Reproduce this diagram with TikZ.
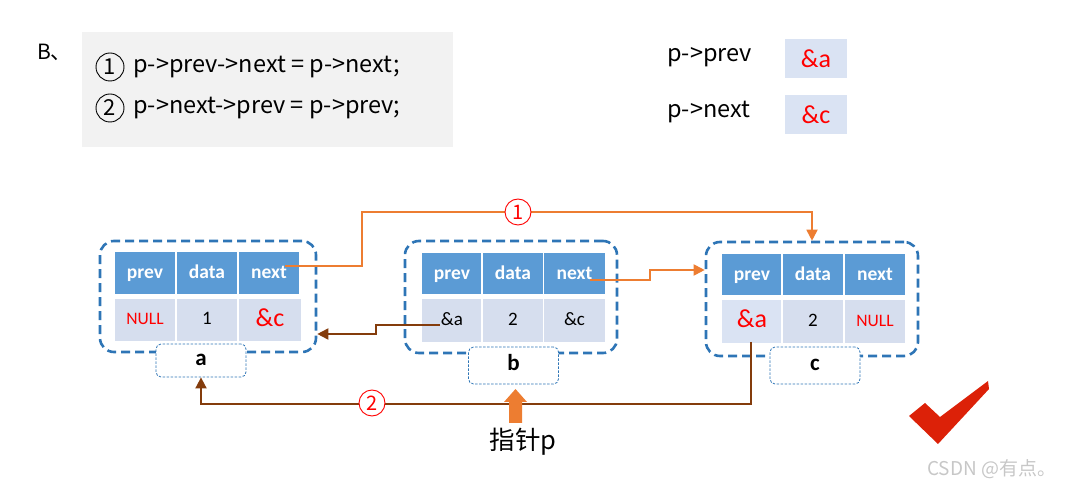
\documentclass[tikz,border=0pt]{standalone}
\usepackage{fontspec}
\setmainfont{Carlito}
\newfontfamily\cjk{Noto Sans CJK SC}
\usetikzlibrary{arrows.meta,calc}
\definecolor{hdr}{HTML}{5B9BD5}
\definecolor{cellc}{HTML}{D6DEEE}
\definecolor{bord}{HTML}{2E75B6}
\definecolor{orng}{HTML}{ED7D31}
\definecolor{brwn}{HTML}{843C0C}
\definecolor{graybg}{HTML}{F2F2F2}
\definecolor{valbg}{HTML}{DAE3F3}
\definecolor{chk}{HTML}{DC2108}
\begin{document}
\begin{tikzpicture}[x=1pt,y=-1pt,
 outer/.style={draw=bord, line width=2.6pt, dash pattern=on 9pt off 5pt, rounded corners=14pt, inner sep=0},
 hd/.style={fill=hdr, draw=white, line width=1.5pt, minimum width=62pt, minimum height=43pt, text=white, font=\bfseries\fontsize{19.5}{19.5}\selectfont, inner sep=0, text height=13pt, text depth=1pt},
 cell/.style={fill=cellc, draw=white, line width=1.5pt, minimum width=62pt, minimum height=44pt, font=\fontsize{19}{19}\selectfont, inner sep=0, text height=11pt, text depth=1pt},
 redv/.style={text=red, font=\fontsize{26}{26}\selectfont, text height=14pt, text depth=1pt},
 nullv/.style={text=red, font=\fontsize{17.5}{17.5}\selectfont},
 lab/.style={draw=bord, line width=0.8pt, dash pattern=on 2.5pt off 1.5pt, rounded corners=5pt, fill=white, minimum width=90pt, font=\bfseries\fontsize{23}{23}\selectfont, inner sep=0, text height=11pt, text depth=1pt},
 otext/.style={font=\cjk\fontsize{23.5}{23.5}\selectfont, inner sep=0},
 circ/.style={circle, draw=black, line width=0.9pt, minimum size=28pt, inner sep=0, font=\cjk\fontsize{22}{22}\selectfont},
 o1/.style={draw=orng, line width=1.8pt, -{Triangle[length=11pt,width=11pt]}},
 b1/.style={draw=brwn, line width=1.8pt, -{Triangle[length=11pt,width=11pt]}},
 num/.style={circle, draw=red, line width=0.9pt, fill=white, text=red, minimum size=26pt, inner sep=0, font=\cjk\fontsize{20}{20}\selectfont},
 valbox/.style={fill=valbg, minimum width=62pt, minimum height=39pt, text=red, font=\fontsize{26}{26}\selectfont, inner sep=0},
]
\useasboundingbox (0,0) rectangle (1069,486);

% top-left code block
\node[otext, anchor=west, font=\cjk\fontsize{21}{21}\selectfont] (bl) at (37,52) {B、};
\node[fill=graybg, minimum width=371pt, minimum height=115pt, inner sep=0] (code) at (267.5,89.5) {};
\node[circ] (c1) at (110,67) {1};
\node[otext, anchor=west] (l1) at (133,67) {p->prev->next = p->next;};
\node[circ] (c2) at (110,108) {2};
\node[otext, anchor=west] (l2) at (133,108) {p->next->prev = p->prev;};

% top-right values
\node[otext, anchor=west] (pp) at (667,57) {p->prev};
\node[valbox] (vp) at (816,58.5) {\&a};
\node[otext, anchor=west] (pn) at (667,112) {p->next};
\node[valbox] (vn) at (816,114.5) {\&c};

% node a
\node[outer, minimum width=216pt, minimum height=111pt] (a-box) at (208,296.5) {};
\node[hd] (a-h1) at (145,273) {prev};
\node[hd] (a-h2) at (207,273) {data};
\node[hd] (a-h3) at (269,273) {next};
\node[cell,nullv] (a-d1) at (145,320) {NULL};
\node[cell] (a-d2) at (207,320) {1};
\node[cell,redv,minimum width=64pt] (a-d3) at (270,320) {\&c};
\node[lab, minimum height=33pt] (a-lab) at (201,360.5) {a};

% node b
\node[outer, minimum width=212pt, minimum height=112pt] (b-box) at (511,297) {};
\node[hd] (b-h1) at (452,273.5) {prev};
\node[hd] (b-h2) at (513,273.5) {data};
\node[hd] (b-h3) at (574.5,273.5) {next};
\node[cell] (b-d1) at (452,320.5) {\&a};
\node[cell] (b-d2) at (513,320.5) {2};
\node[cell] (b-d3) at (574.5,320.5) {\&c};
\node[lab, minimum height=37pt] (b-lab) at (513.5,365.5) {b};

% node c
\node[outer, minimum width=212pt, minimum height=114pt] (c-box) at (812,299) {};
\node[hd] (c-h1) at (752,274.5) {prev};
\node[hd] (c-h2) at (813,274.5) {data};
\node[hd] (c-h3) at (875,274.5) {next};
\node[cell,redv,fill=valbg] (c-d1) at (752,321.5) {\&a};
\node[cell] (c-d2) at (813,321.5) {2};
\node[cell,nullv] (c-d3) at (875,321.5) {NULL};
\node[lab, minimum height=37pt] (c-lab) at (815,365.5) {c};

% connectors
\coordinate (s1) at (285,266);
\draw[o1] (s1) -| (362,212) -| (c-box.north);
\node[num] (n1) at (518,212) {1};

\coordinate (s2) at (590,280);
\draw[o1] (s2) -- (650,280) |- ([yshift=29pt]c-box.west);

\coordinate (s3) at (440,325);
\draw[b1] (s3) -- (376,325) |- ([yshift=-37.5pt]a-box.east);

\coordinate (s4) at (751,342);
\draw[b1] (s4) -- (751,404) -| (a-lab.south);
\node[num] (n2) at (372,403) {2};

% pointer p
\fill[orng] (509,423) -- (509,402) -- (504,402) -- (515.5,389) -- (527,402) -- (522,402) -- (522,423) -- cycle;
\node[font=\cjk\fontsize{25.5}{25.5}\selectfont, inner sep=0] (ptr) at (523,442) {指针p};

% check mark
\fill[chk] (909,416) -- (925,403) -- (940,417) -- (988,381) -- (989,389) -- (938,444) -- cycle;

% watermark
\node[anchor=west, font=\cjk\fontsize{19}{19}\selectfont, text=black!22, inner sep=0] (wm) at (927,469) {CSDN @有点。};
\end{tikzpicture}
\end{document}
